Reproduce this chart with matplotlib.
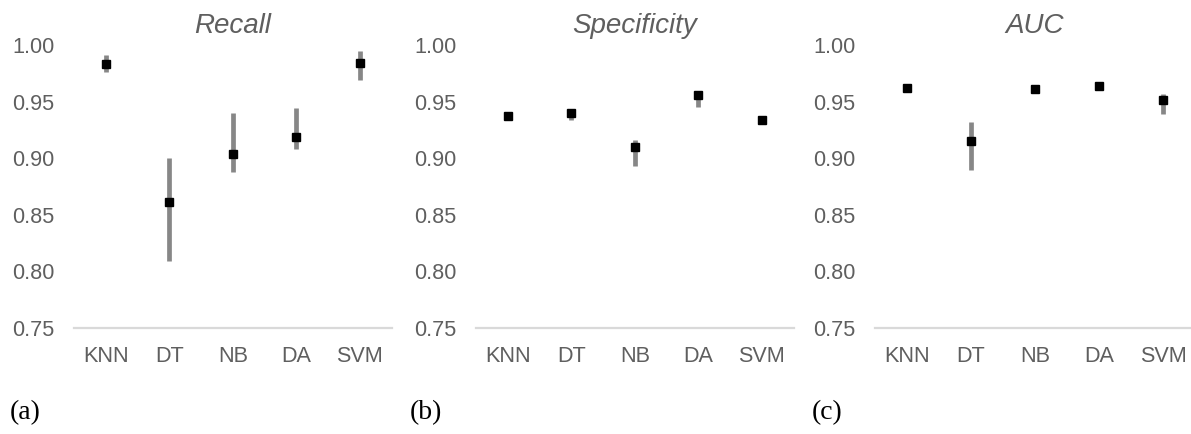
import matplotlib
matplotlib.use("Agg")
import matplotlib.pyplot as plt
import numpy as np

# Classifiers evaluated
models = ["KNN", "DT", "NB", "DA", "SVM"]
yticks = [0.75, 0.80, 0.85, 0.90, 0.95, 1.00]

# Recall: mean with lower / upper bounds
recall_mean = [0.983, 0.861, 0.904, 0.919, 0.984]
recall_low = [0.976, 0.809, 0.888, 0.908, 0.969]
recall_high = [0.991, 0.900, 0.940, 0.944, 0.995]

# Specificity
spec_mean = [0.937, 0.940, 0.910, 0.956, 0.934]
spec_low = [0.936, 0.934, 0.893, 0.945, 0.933]
spec_high = [0.938, 0.941, 0.916, 0.957, 0.935]

# AUC
auc_mean = [0.962, 0.915, 0.961, 0.964, 0.951]
auc_low = [0.961, 0.890, 0.960, 0.963, 0.939]
auc_high = [0.963, 0.932, 0.962, 0.965, 0.9565]

panels = [
    ("Recall", recall_mean, recall_low, recall_high, "(a)"),
    ("Specificity", spec_mean, spec_low, spec_high, "(b)"),
    ("AUC", auc_mean, auc_low, auc_high, "(c)"),
]

W, H = 1191, 434
fig = plt.figure(figsize=(W / 100, H / 100), dpi=100)

# axes boxes in pixels: left, width
boxes = [(74, 317.5), (476, 317.5), (875, 320)]
label_x = [10, 410, 812]
bottom_px, top_px = 328, 45

text_gray = "#5f5f5f"
for (title, mean, low, high, tag), (lx, wx), tx in zip(panels, boxes, label_x):
    ax = fig.add_axes([lx / W, 1 - bottom_px / H, wx / W, (bottom_px - top_px) / H])
    x = np.arange(len(models))
    mean = np.array(mean)
    err = np.vstack([mean - np.array(low), np.array(high) - mean])
    ax.errorbar(x, mean, yerr=err, fmt="none", ecolor="#878787",
                elinewidth=3.4, capsize=0, zorder=2)
    ax.plot(x, mean, linestyle="none", marker="s", markersize=6.2,
            color="black", zorder=3)
    ax.set_xlim(-0.5, len(models) - 0.5)
    ax.set_ylim(0.75, 1.0)
    ax.set_yticks(yticks)
    ax.set_yticklabels([f"{v:.2f}" for v in yticks])
    ax.set_xticks(x)
    ax.set_xticklabels(models)
    for s in ["top", "left", "right"]:
        ax.spines[s].set_visible(False)
    ax.spines["bottom"].set_color("#d9d9d9")
    ax.spines["bottom"].set_linewidth(1.6)
    ax.tick_params(axis="y", length=0, pad=14, labelsize=15.6,
                   labelcolor=text_gray)
    ax.tick_params(axis="x", length=0, pad=13, labelsize=15.6,
                   labelcolor=text_gray)
    for lab in ax.get_xticklabels() + ax.get_yticklabels():
        lab.set_family("Liberation Sans")
    fig.text((lx + wx / 2) / W, 1 - 26 / H, title, ha="center", va="center",
             fontsize=20, style="italic", color=text_gray,
             family="Liberation Sans")
    fig.text(tx / W, 1 - 413 / H, tag, ha="left", va="center",
             fontsize=20, color="black", family="Liberation Serif")

fig.savefig("out.png", dpi=100)
